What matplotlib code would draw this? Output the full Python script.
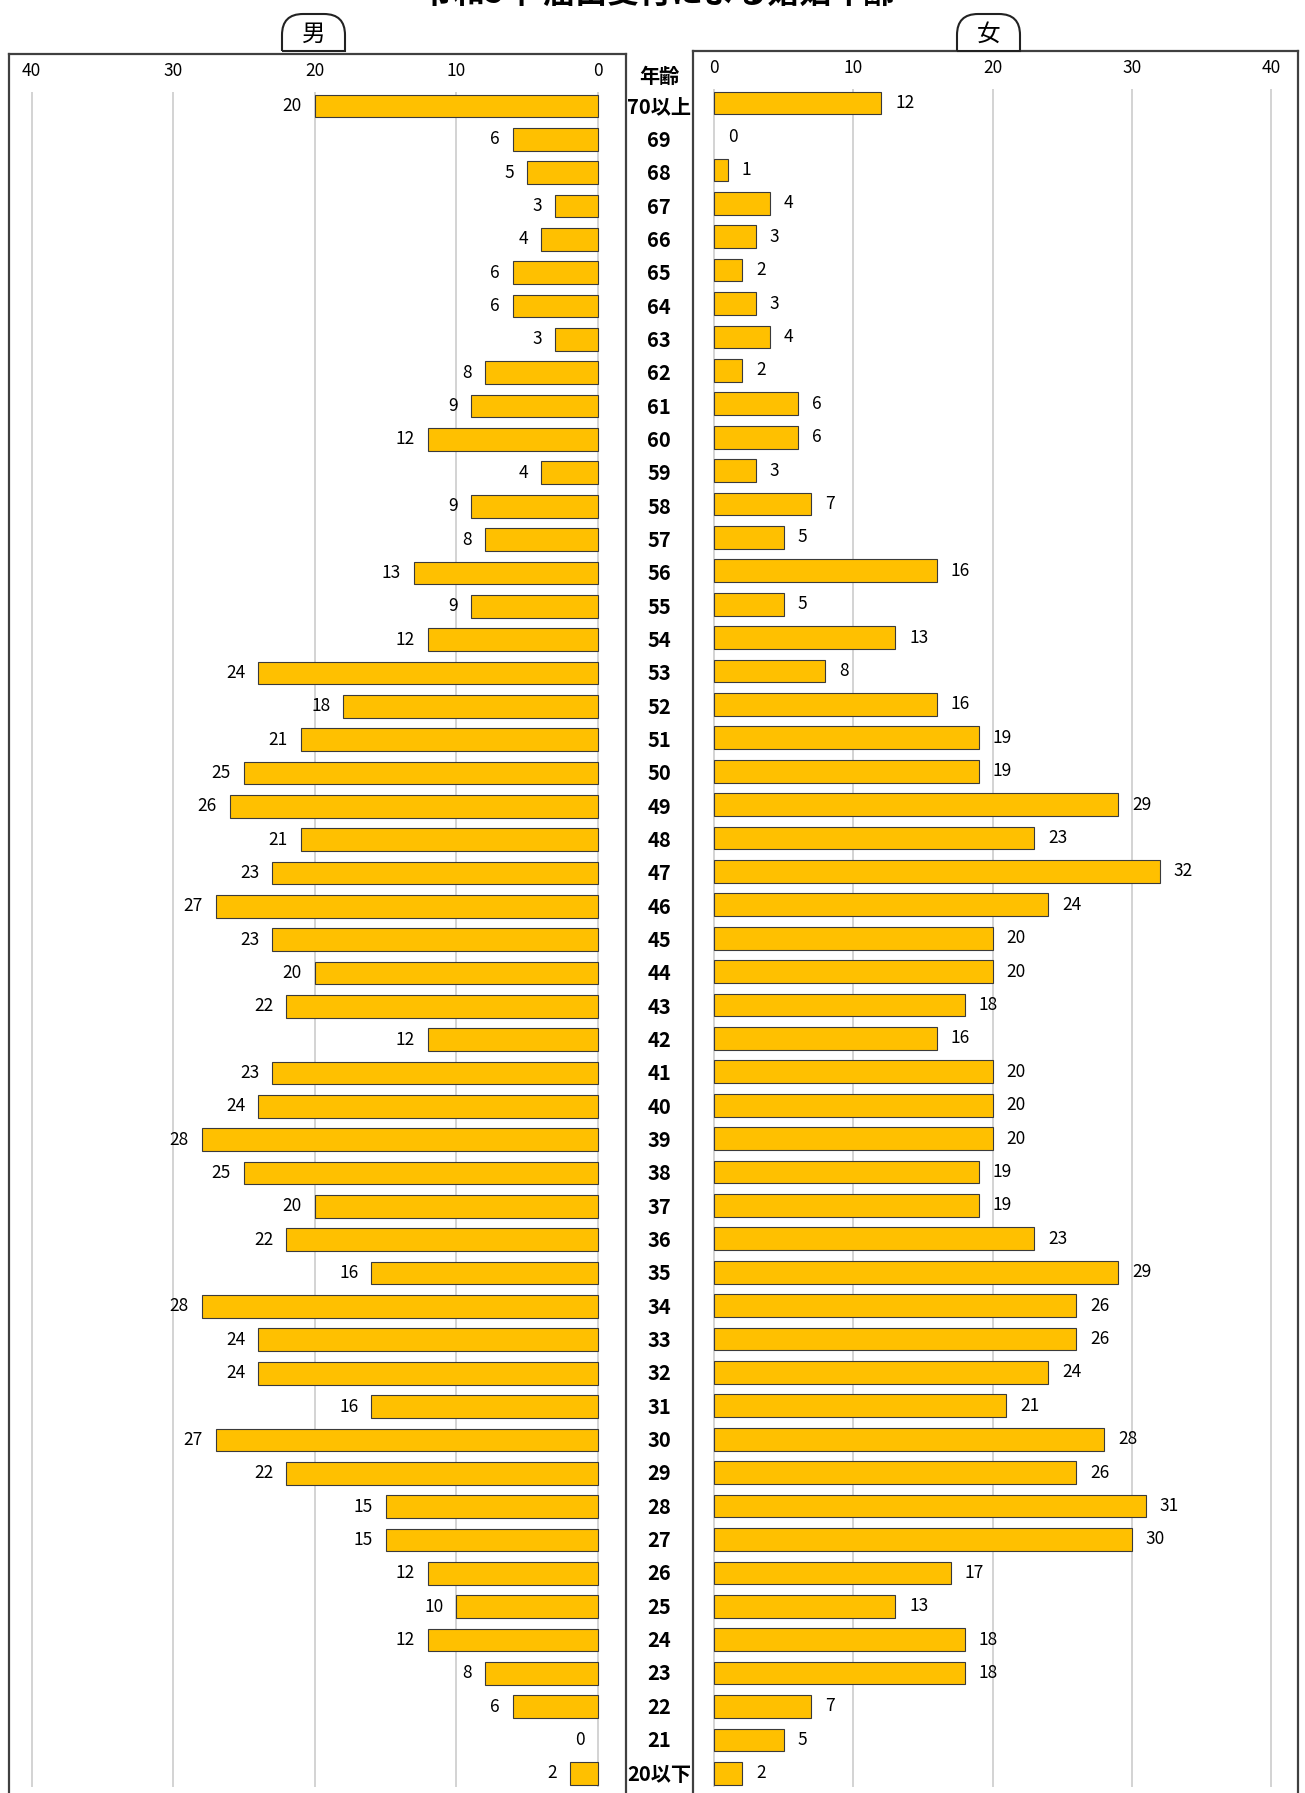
import numpy as np
import matplotlib.pyplot as plt
from matplotlib.path import Path
from matplotlib.patches import PathPatch

plt.rcParams['font.family'] = ['Noto Sans CJK JP', 'DejaVu Sans']

# ages from top to bottom
ages = ['70以上'] + [str(a) for a in range(69, 20, -1)] + ['20以下']
male = [20, 6, 5, 3, 4, 6, 6, 3, 8, 9, 12, 4, 9, 8, 13, 9, 12, 24, 18, 21,
        25, 26, 21, 23, 27, 23, 20, 22, 12, 23, 24, 28, 25, 20, 22, 16, 28, 24,
        24, 16, 27, 22, 15, 15, 12, 10, 12, 8, 6, 0, 2]
female = [12, 0, 1, 4, 3, 2, 3, 4, 2, 6, 6, 3, 7, 5, 16, 5, 13, 8, 16, 19,
          19, 29, 23, 32, 24, 20, 20, 18, 16, 20, 20, 20, 19, 19, 23, 29, 26, 26,
          24, 21, 28, 26, 31, 30, 17, 13, 18, 18, 7, 5, 2]
ticks = [0, 10, 20, 30, 40]

W, H = 1305, 1793
fig = plt.figure(figsize=(W / 100, H / 100), dpi=100)

def fx(px):
    return px / W

def fy(py):
    return 1 - py / H

bar_color = '#FFC000'
edge = '#3a3a3a'
grid_color = '#d0d0d0'
y = np.arange(len(ages))
ylim = (50.8, -1.56)

# left panel (men), right panel (women)
axL = fig.add_axes([fx(9), fy(1800), fx(626 - 9), (1800 - 54) / H])
axR = fig.add_axes([fx(693), fy(1800), fx(1298 - 693), (1800 - 51) / H])

axL.set_xlim(41.6, -1.98)
axR.set_xlim(-1.51, 41.94)
for ax in (axL, axR):
    ax.set_ylim(*ylim)
    ax.set_xticks([])
    ax.set_yticks([])
    for s in ax.spines.values():
        s.set_color('#404040')
        s.set_linewidth(1.6)
    ax.spines['bottom'].set_visible(False)
    ax.vlines(ticks, -0.42, 50.4, color=grid_color, lw=1.3, zorder=0)
    for t in ticks:
        ax.text(t, -1.05, str(t), ha='center', va='center', fontsize=12.5)

lwL = [0.8 if v else 0 for v in male]
lwR = [0.8 if v else 0 for v in female]
axL.barh(y, male, height=0.68, color=bar_color, edgecolor=edge, lw=lwL, zorder=2)
axR.barh(y, female, height=0.68, color=bar_color, edgecolor=edge, lw=lwR, zorder=2)

for i, v in enumerate(male):
    axL.annotate(str(v), (v, i), xytext=(-13, 0), textcoords='offset pixels',
                 ha='right', va='center', fontsize=12.5)
for i, v in enumerate(female):
    axR.annotate(str(v), (v, i), xytext=(14, 0), textcoords='offset pixels',
                 ha='left', va='center', fontsize=12.5)

# age labels in the middle
for i, a in enumerate(ages):
    py = 107 + 33.34 * i
    fig.text(fx(659), fy(py), a, ha='center', va='center', fontsize=14.5,
             fontweight='bold')
fig.text(fx(659), fy(76), '年齢', ha='center', va='center', fontsize=14.5,
         fontweight='bold')

# tabs for 男 / 女
def tab(x0, x1, y0, y1, label):
    r = 21
    verts = [(x0, y1), (x0, y0 + r), (x0, y0), (x0 + r, y0), (x1 - r, y0),
             (x1, y0), (x1, y0 + r), (x1, y1), (x0, y1)]
    codes = [Path.MOVETO, Path.LINETO, Path.CURVE3, Path.CURVE3, Path.LINETO,
             Path.CURVE3, Path.CURVE3, Path.LINETO, Path.LINETO]
    verts = [(fx(a), fy(b)) for a, b in verts]
    fig.add_artist(PathPatch(Path(verts, codes), facecolor='white',
                             edgecolor='#222222', lw=1.5,
                             transform=fig.transFigure))
    fig.text(fx((x0 + x1) / 2), fy((y0 + y1) / 2 + 2), label, ha='center',
             va='center', fontsize=17)

tab(282, 345, 14, 51, '男')
tab(957, 1020, 14, 51, '女')

fig.text(fx(658), fy(10), '令和5年 届出受付による婚姻年齢', ha='center',
         va='bottom', fontsize=23, fontweight='bold')

fig.savefig('out.png', dpi=100)
